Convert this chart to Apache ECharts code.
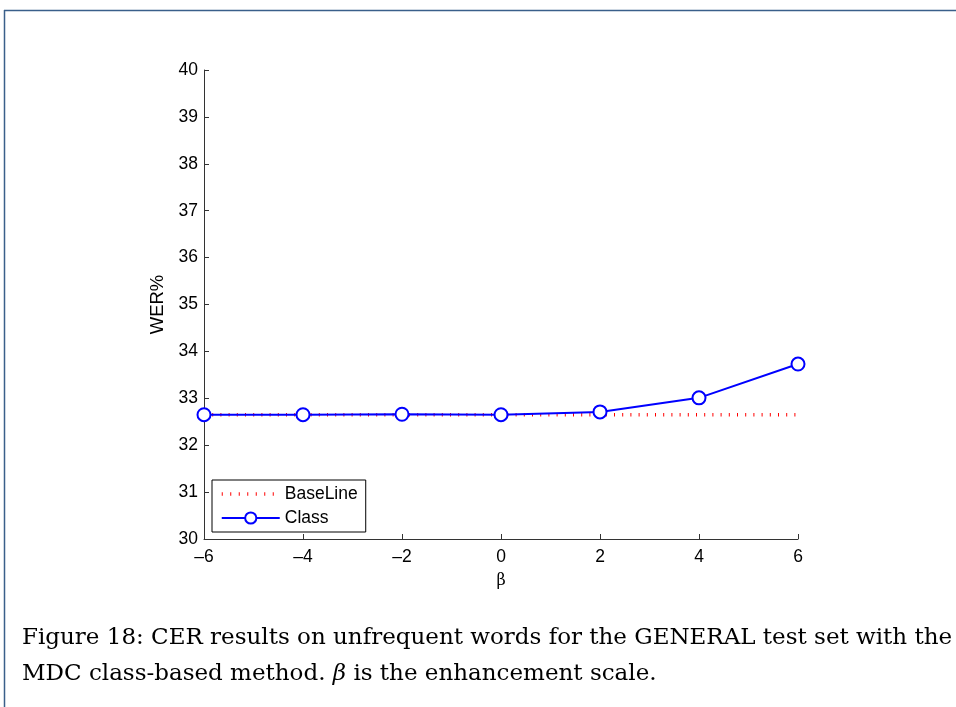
<!DOCTYPE html>
<html>
<head>
<meta charset="utf-8">
<script src="https://cdn.jsdelivr.net/npm/echarts@6/dist/echarts.min.js"></script>
<style>
  html, body { margin: 0; padding: 0; background: #fff; }
  #chart { width: 956px; height: 707px; }
</style>
</head>
<body>
<div id="chart"></div>
<script>
// Enhancement scale values (x axis)
const betaValues = [-6, -4, -2, 0, 2, 4, 6];
// WER% for the baseline system (flat reference)
const baselineWer = [32.65, 32.65, 32.65, 32.65, 32.65, 32.65, 32.65];
// WER% for the class-based method
const classWer = [32.65, 32.65, 32.66, 32.65, 32.71, 33.01, 33.73];
// Axis tick settings
const yTicks = { min: 30, max: 40, step: 1 };
const xTicks = { min: -6, max: 6, step: 2 };

const fmtMinus = v => (v < 0 ? '\u2013' + Math.abs(v) : String(v));

const chart = echarts.init(document.getElementById('chart'), null, { renderer: 'canvas' });

const sans = 'Liberation Sans, Arial, sans-serif';
const axisFont = { fontFamily: sans, fontSize: 17.5, color: '#000' };
const serifFont = '"DejaVu Serif", "Liberation Serif", serif';

chart.setOption({
  animation: false,
  backgroundColor: '#fff',
  grid: { left: 204, right: 158, top: 70, bottom: 168, containLabel: false },
  xAxis: {
    type: 'value',
    min: xTicks.min, max: xTicks.max, interval: xTicks.step,
    name: '\u03b2',
    nameLocation: 'middle',
    nameGap: 34,
    nameTextStyle: { fontFamily: serifFont, fontSize: 16, color: '#000' },
    axisLine: { show: true, onZero: false, lineStyle: { color: '#333', width: 1 } },
    axisTick: { show: true, inside: true, length: 5, lineStyle: { color: '#333' } },
    axisLabel: Object.assign({ margin: 9, formatter: fmtMinus }, axisFont),
    splitLine: { show: false }
  },
  yAxis: {
    type: 'value',
    min: yTicks.min, max: yTicks.max, interval: yTicks.step,
    name: 'WER%',
    nameLocation: 'middle',
    nameGap: 35,
    nameRotate: 90,
    nameTextStyle: { fontFamily: sans, fontSize: 18.5, color: '#000' },
    axisLine: { show: true, onZero: false, lineStyle: { color: '#333', width: 1 } },
    axisTick: { show: true, inside: true, length: 5, lineStyle: { color: '#333' } },
    axisLabel: Object.assign({ margin: 6, formatter: fmtMinus }, axisFont),
    splitLine: { show: false }
  },
  legend: {
    orient: 'vertical',
    left: 212,
    top: 480,
    backgroundColor: '#fff',
    borderColor: '#000',
    borderWidth: 1,
    borderRadius: 0,
    padding: [4, 8, 4, 8],
    itemGap: 4,
    itemWidth: 58,
    itemHeight: 14,
    textStyle: { fontFamily: sans, fontSize: 17.5, color: '#000', lineHeight: 20 },
    data: [
      {
        name: 'BaseLine',
        itemStyle: { color: 'rgba(0,0,0,0)', borderWidth: 0 },
        lineStyle: { color: '#ff0000', width: 3.5, type: [1, 7.5], cap: 'butt' }
      },
      { name: 'Class' }
    ]
  },
  series: [
    {
      name: 'BaseLine',
      type: 'line',
      data: betaValues.map((b, i) => [b, baselineWer[i]]),
      showSymbol: false,
      symbol: 'none',
      lineStyle: { color: '#ff0000', width: 3.5, type: [1, 7.2], cap: 'butt' },
      itemStyle: { color: '#ff0000' },
      z: 2
    },
    {
      name: 'Class',
      type: 'line',
      data: betaValues.map((b, i) => [b, classWer[i]]),
      symbol: 'circle',
      symbolSize: 13,
      lineStyle: { color: '#0000ff', width: 2 },
      itemStyle: { color: '#fff', borderColor: '#0000ff', borderWidth: 2 },
      z: 3
    }
  ],
  graphic: [
    // page frame: top rule and left rule
    { type: 'line', shape: { x1: 4, y1: 10.5, x2: 956, y2: 10.5 }, style: { stroke: '#3a5f8a', lineWidth: 1.5 } },
    { type: 'line', shape: { x1: 4.5, y1: 10, x2: 4.5, y2: 707 }, style: { stroke: '#3a5f8a', lineWidth: 1.5 } },
    // caption
    {
      type: 'text',
      left: 22, top: 627,
      style: {
        text: 'Figure 18: CER results on unfrequent words for the GENERAL test set with the',
        font: '23px ' + serifFont,
        fill: '#000'
      }
    },
    {
      type: 'text',
      left: 22, top: 663,
      style: {
        text: '{n|MDC class-based method. }{i|\u03b2}{n| is the enhancement scale.}',
        rich: {
          n: { font: '23px ' + serifFont, fill: '#000' },
          i: { font: 'italic 23px ' + serifFont, fill: '#000' }
        }
      }
    }
  ]
});
</script>
</body>
</html>
